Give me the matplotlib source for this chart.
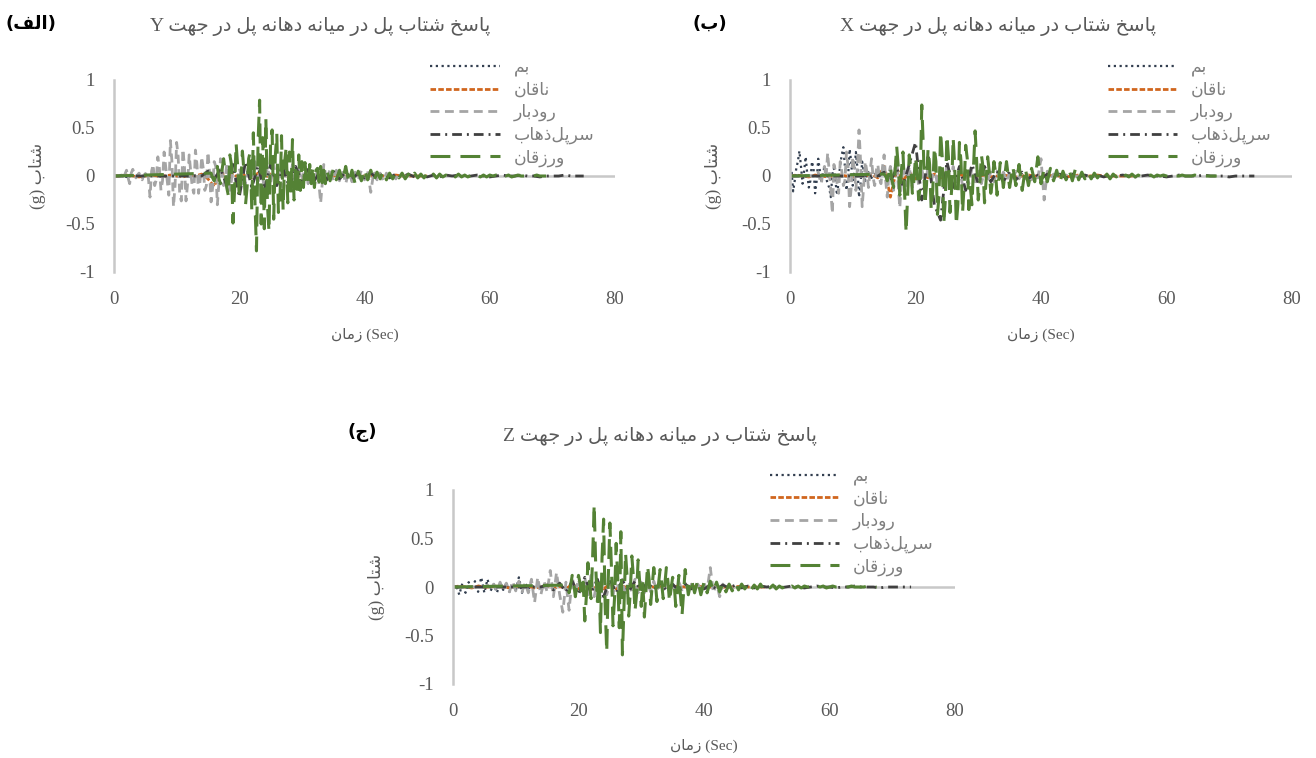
import numpy as np
import matplotlib
matplotlib.use('Agg')
import matplotlib.pyplot as plt
from matplotlib.lines import Line2D

plt.rcParams['axes.unicode_minus'] = False

# ---------------- data (acceleration in g) ----------------
# a record is one or more pieces: (start time s, time step s, values); zero before the start
xticks = [0, 20, 40, 60, 80]
yticks = [-1, -0.5, 0, 0.5, 1]
ytick_labels = ['-1', '-0.5', '0', '0.5', '1']
station_names = ['بم', 'ناقان', 'رودبار', 'سرپل\u200cذهاب', 'ورزقان']

# ---- panel (الف) : Y direction
bam_y = [0.00, 0.01, -0.01, 0.01, 0.00, -0.01, 0.01, 0.00, -0.01, 0.01,
         0.00, 0.01, -0.01, 0.00, 0.01, 0.00, -0.01, 0.01, 0.00, 0.00]
naghan_y = [0.00, 0.00, 0.01, 0.00, -0.01, 0.00, 0.01, 0.00, 0.00, 0.01,
            0.00, -0.01, 0.01, 0.00, 0.02, -0.03, -0.11, 0.06, -0.04, 0.03,
            -0.03, 0.02, -0.02, 0.03, -0.02, 0.02, -0.01, 0.02, -0.01, 0.01,
            -0.01, 0.01, 0.00, 0.01, -0.01, 0.00, 0.01, 0.00, 0.00, 0.01,
            0.00, 0.00, 0.01, 0.00, 0.00, 0.01, 0.00, 0.00, 0.00, 0.00, 0.00]
rudbar_y_core = [0.00, 0.01, -0.03, 0.02, 0.06, -0.02, -0.08, 0.03,
                 0.07, 0.02, -0.02, 0.01, 0.03, -0.01, -0.04, 0.01,
                 0.02, 0.05, -0.03, -0.22, 0.05, 0.12, -0.10, -0.04,
                 0.20, 0.08, -0.15, -0.05, 0.25, 0.10, -0.05, -0.20,
                 0.37, 0.15, -0.32, -0.10, 0.35, 0.20, -0.20, -0.26,
                 0.28, 0.10, -0.26, -0.08, 0.22, 0.05, -0.12, -0.18,
                 0.27, 0.12, -0.18, -0.05, 0.20, 0.08, -0.15, -0.10,
                 0.25, 0.05, -0.27, -0.12, 0.15, 0.10, -0.30, -0.08,
                 0.18, 0.05, -0.10, -0.04, 0.12, 0.06, -0.15, -0.05,
                 0.10, 0.04, -0.12, -0.03, 0.08, 0.02, -0.08, 0.03]
rudbar_y_tail = [-0.08, 0.10, -0.12, 0.15, -0.10, 0.12, -0.15, 0.10, -0.08, 0.12,
                 -0.10, 0.08, -0.12, 0.10, -0.08, 0.12, -0.10, 0.08, -0.06, 0.10,
                 -0.08, 0.06, -0.10, 0.08, -0.28, 0.12, -0.06, 0.08, -0.05, 0.06,
                 -0.05, 0.06, -0.08, 0.05, -0.06, 0.04, -0.05, 0.06, -0.04, 0.05,
                 -0.17, 0.05, -0.04, 0.03, -0.05, 0.03, -0.02, 0.02, -0.03, 0.02,
                 0.01, -0.01, 0.01, 0.00, 0.00]
sarpol_y = [0.00, 0.05, -0.04, 0.08, -0.10, 0.12, -0.22, 0.15, -0.12, 0.10,
            -0.15, 0.12, -0.10, 0.08, -0.12, 0.10, -0.06, 0.08, -0.05, 0.06,
            -0.04, 0.05, -0.03, 0.04, -0.03, 0.03, -0.02, 0.03, -0.02, 0.02,
            -0.02, 0.02, -0.01, 0.02, -0.01, 0.01, -0.01, 0.01, -0.01, 0.01,
            0.00, 0.01, -0.01, 0.00, 0.01, 0.00, -0.01, 0.00, 0.01, 0.00,
            0.00, 0.01, 0.00, 0.00, -0.01, 0.00, 0.00, 0.00, 0.01, 0.00, 0.00, 0.00]
varzaghan_y_core = [0.03, -0.02, -0.05, 0.04, 0.10, -0.03, -0.08, 0.06,
                    0.18, 0.05, -0.12, -0.20, 0.22, 0.12, -0.49, -0.15,
                    0.34, 0.10, -0.20, -0.08, 0.26, 0.05, -0.30, -0.12,
                    0.18, 0.25, -0.35, 0.45, -0.25, -0.78, 0.35, 0.79,
                    -0.50, 0.40, -0.55, 0.60, -0.30, -0.58, 0.35, 0.48,
                    -0.45, 0.20, 0.44, -0.38, -0.25, 0.42, -0.35, 0.15,
                    0.30, -0.28, 0.25, -0.20, 0.38, -0.25, 0.12, -0.20,
                    0.22, -0.15, 0.15, -0.12, 0.14, -0.08, -0.10, 0.12,
                    -0.08, 0.10, -0.12, 0.06, 0.08, -0.06, 0.10, -0.07,
                    0.06, -0.08]
varzaghan_y_tail = [0.05, -0.05, 0.07, -0.04, 0.06, -0.05, 0.10, -0.07, 0.06, -0.08,
                    0.05, -0.05, 0.07, -0.04, 0.06, -0.05, 0.04, -0.03, 0.05, -0.04,
                    0.03, -0.03, 0.04, -0.02, 0.03, -0.03, 0.02, -0.03, 0.03, -0.02,
                    0.02, -0.02, 0.03, -0.01, 0.02, -0.02, 0.02, -0.01, 0.01, -0.02,
                    0.01, -0.01, 0.02, -0.01, 0.01, -0.01, 0.01, -0.01, 0.01, -0.01,
                    0.01, -0.01, 0.01, 0.00, 0.01, -0.01, 0.01, 0.00, 0.01, -0.01,
                    0.00, 0.01, 0.00, 0.00, 0.01, 0.00, 0.00, 0.01, 0.00, 0.00, 0.00]

# ---- panel (ب) : X direction
bam_x_core = [0.00, 0.05, -0.16, -0.05, 0.08, 0.15, 0.26, 0.10,
              -0.08, 0.05, 0.20, 0.02, -0.12, -0.05, 0.15, 0.08,
              -0.18, -0.05, 0.18, 0.06, -0.05, 0.03, 0.10, -0.02,
              -0.08, -0.12, -0.22, 0.02, 0.08, -0.06, -0.20, -0.05,
              0.12, 0.22, 0.30, 0.10, -0.15, -0.02, 0.28, 0.15,
              -0.10, 0.05, 0.25, 0.08, -0.22, -0.08, 0.15, 0.05,
              -0.05, 0.02, 0.04, -0.01, -0.02, 0.01, 0.02, 0.00,
              -0.01, 0.00, 0.01, 0.00]
bam_x_tail = [0.01, 0.00, -0.01, 0.00, 0.01, 0.00, 0.00, 0.00, 0.00, 0.00]
naghan_x = [0.00, 0.01, 0.00, -0.01, 0.01, 0.00, -0.01, 0.00, 0.01, 0.00,
            -0.01, 0.01, 0.00, 0.02, -0.02, 0.10, -0.22, 0.08, -0.05, 0.04,
            -0.03, 0.03, -0.02, 0.02, -0.02, 0.01, -0.01, 0.02, -0.01, 0.01,
            0.00, 0.01, -0.01, 0.00, 0.01, 0.00, -0.01, 0.00, 0.01, 0.00,
            0.00, 0.01, 0.00, 0.00, -0.01, 0.00, 0.01, 0.00, 0.00, 0.01,
            0.00, 0.00, 0.00, 0.00, 0.00, 0.00]
rudbar_x_core = [0.00, 0.02, 0.04, -0.03, -0.08, 0.05, 0.10, -0.02,
                 0.24, 0.05, -0.15, -0.39, 0.12, 0.05, -0.08, -0.18,
                 0.15, 0.05, -0.10, -0.05, 0.25, 0.10, -0.32, -0.12,
                 0.20, 0.08, -0.15, 0.10, 0.48, 0.15, -0.32, -0.10,
                 0.15, 0.05, -0.12, 0.04, 0.18, -0.02, -0.10, 0.06,
                 0.12, -0.03, -0.08, 0.10, 0.22, -0.05, -0.22, 0.02,
                 0.10, -0.08, -0.15, 0.12, 0.20, -0.10, -0.33, -0.05,
                 0.12, 0.04, -0.10, -0.02]
rudbar_x_tail = [0.10, -0.12, 0.15, -0.10, 0.08, -0.12, 0.10, -0.08, 0.12, -0.10,
                 0.08, -0.10, 0.12, -0.08, 0.10, -0.06, 0.08, -0.10, 0.06, -0.08,
                 0.08, -0.06, 0.05, -0.08, 0.06, -0.05, 0.04, -0.06, 0.05, -0.04,
                 0.04, -0.05, 0.03, -0.04, 0.05, -0.03, 0.04, -0.03, 0.03, -0.04,
                 0.03, -0.02, 0.18, -0.25, 0.05, -0.03, 0.02, -0.02, 0.02, -0.01,
                 0.01, -0.01, 0.01, 0.00, 0.00]
sarpol_x = [0.00, 0.04, -0.06, 0.08, -0.10, 0.12, 0.35, -0.25, 0.20, -0.30,
            -0.46, 0.15, -0.12, 0.10, -0.15, 0.12, -0.08, 0.10, -0.06, 0.05,
            -0.06, 0.05, -0.04, 0.04, -0.03, 0.03, -0.03, 0.02, -0.02, 0.02,
            -0.02, 0.02, -0.01, 0.01, -0.01, 0.01, -0.01, 0.01, 0.00, 0.01,
            0.00, -0.01, 0.00, 0.01, 0.00, 0.00, -0.01, 0.00, 0.01, 0.00,
            0.00, 0.00, 0.01, 0.00, 0.00, 0.00, -0.01, 0.00, 0.00, 0.00, 0.00]
varzaghan_x_core = [0.02, 0.00, -0.05, 0.03, 0.10, -0.04, -0.12, 0.05,
                    0.31, 0.10, -0.20, 0.05, 0.25, -0.15, -0.59, -0.20,
                    0.22, 0.10, -0.18, -0.05, 0.20, 0.08, -0.25, -0.10,
                    0.74, 0.30, -0.30, -0.10, 0.28, 0.12, -0.35, -0.15,
                    0.30, 0.15, -0.40, -0.20, 0.46, 0.20, -0.50, -0.25,
                    0.42, 0.20, -0.38, -0.15, 0.40, 0.10, -0.51, -0.30,
                    0.35, 0.15, -0.38, -0.10, 0.32, 0.18, -0.35, -0.12,
                    -0.30, 0.10, 0.47, 0.15, -0.25, -0.08, 0.22, 0.10,
                    -0.28, -0.05, 0.20, 0.05, -0.18, -0.06, 0.15, 0.04,
                    -0.20, -0.05, 0.14, 0.03]
varzaghan_x_tail = [-0.12, 0.15, -0.12, 0.10, -0.10, 0.12, -0.15, 0.08, -0.10, 0.08,
                    -0.06, 0.20, -0.08, 0.07, -0.06, 0.08, -0.05, 0.06, -0.07, 0.05,
                    -0.04, 0.06, -0.05, 0.08, -0.04, 0.04, -0.03, 0.04, -0.03, 0.03,
                    -0.02, 0.03, -0.02, 0.02, -0.03, 0.02, -0.01, 0.02, -0.02, 0.01,
                    -0.01, 0.02, -0.01, 0.01, -0.01, 0.01, 0.00, 0.01, -0.01, 0.01,
                    0.00, 0.01, 0.00, -0.01, 0.01, 0.00, 0.00, 0.01, 0.00, 0.00,
                    0.00, 0.01, 0.00, 0.00, 0.00, 0.00, 0.00, 0.00, 0.00]

# ---- panel (ج) : Z direction
bam_z = [0.00, 0.02, -0.08, 0.04, -0.06, 0.05, -0.03, 0.06, -0.05, 0.10,
         -0.06, 0.08, -0.04, 0.03, -0.06, 0.05, -0.03, 0.04, -0.05, 0.03,
         -0.04, 0.10, -0.06, 0.04, -0.02, 0.02, -0.01, 0.01, 0.00, 0.00]
naghan_z = [0.00, 0.01, 0.00, -0.01, 0.01, 0.00, 0.00, 0.01, 0.00, -0.01,
            0.01, 0.00, 0.01, -0.01, 0.00, 0.02, -0.02, 0.01, -0.02, 0.03,
            -0.02, 0.02, -0.03, 0.02, -0.02, 0.03, -0.02, 0.01, -0.01, 0.02,
            -0.01, 0.01, 0.00, 0.01, -0.01, 0.00, 0.01, 0.00, 0.00, 0.01,
            0.00, 0.00, 0.01, 0.00, 0.00, 0.00, 0.01, 0.00, 0.00, 0.00, 0.00]
rudbar_z = [0.00, 0.02, -0.02, 0.03, -0.04, 0.05, -0.03, 0.04, -0.05, 0.06,
            -0.04, 0.06, -0.05, 0.04, -0.06, 0.08, -0.16, 0.10, -0.08, 0.06,
            -0.05, 0.17, -0.10, 0.15, -0.08, -0.26, 0.05, -0.24, 0.10, -0.06,
            0.08, -0.06, 0.10, -0.08, 0.12, -0.10, 0.08, -0.12, 0.10, -0.08,
            0.06, -0.08, 0.10, -0.06, 0.08, -0.10, 0.06, -0.05, 0.08, -0.06,
            0.05, -0.06, 0.04, -0.05, 0.06, -0.04, 0.05, -0.03, 0.04, -0.05,
            0.03, -0.04, 0.05, -0.03, 0.04, -0.03, 0.03, -0.04, 0.03, -0.02,
            0.04, -0.03, 0.20, -0.06, 0.04, -0.10, 0.03, -0.02, 0.02, -0.02,
            0.01, -0.01, 0.01, 0.00, 0.00]
sarpol_z = [0.00, 0.02, -0.03, 0.04, -0.05, 0.06, -0.08, 0.10, -0.06, 0.08,
            -0.10, 0.08, -0.06, 0.07, -0.05, 0.06, -0.04, 0.05, -0.03, 0.04,
            -0.03, 0.03, -0.04, 0.03, -0.02, 0.03, -0.02, 0.02, -0.02, 0.02,
            -0.01, 0.02, -0.01, 0.01, -0.01, 0.01, 0.00, 0.01, -0.01, 0.00,
            0.01, 0.00, -0.01, 0.00, 0.01, 0.00, 0.00, -0.01, 0.00, 0.00,
            0.01, 0.00, 0.00, 0.00, -0.01, 0.00, 0.00, 0.00, 0.00, 0.00]
varzaghan_z_core = [0.02, 0.00, -0.06, 0.02, 0.12, 0.03, -0.10, 0.02,
                    0.12, 0.04, -0.08, 0.05, -0.35, -0.10, 0.25, 0.05,
                    -0.12, 0.30, 0.85, 0.20, -0.15, 0.10, -0.47, 0.30,
                    0.70, -0.20, -0.67, 0.10, 0.66, 0.20, -0.40, -0.10,
                    0.45, 0.10, -0.42, 0.57, -0.70, -0.20, 0.35, 0.10,
                    -0.30, -0.05, 0.32, 0.10, -0.25, -0.08, 0.28, 0.05,
                    -0.20, 0.05, -0.31, -0.05, 0.22, 0.08, -0.18, 0.02,
                    0.20, 0.05, -0.15, 0.03, 0.18, 0.04, -0.12, 0.02,
                    0.20, 0.06, -0.15, -0.02, 0.10, 0.03, -0.20, -0.05]
varzaghan_z_tail = [0.12, -0.29, 0.18, -0.08, 0.08, -0.06, 0.07, -0.08, 0.05, -0.06,
                    0.06, -0.04, 0.05, -0.05, 0.04, -0.05, 0.03, -0.04, 0.04, -0.03,
                    0.03, -0.02, 0.03, -0.03, 0.02, -0.02, 0.03, -0.02, 0.02, -0.01,
                    0.02, -0.02, 0.01, -0.01, 0.02, -0.01, 0.01, -0.01, 0.01, -0.01,
                    0.01, 0.00, 0.01, -0.01, 0.01, 0.00, 0.01, -0.01, 0.00, 0.01,
                    0.00, 0.00, 0.01, 0.00, 0.00, 0.01, 0.00, 0.00, 0.00, 0.00,
                    0.01, 0.00, 0.00, 0.00]

# ---------------- persian text shaping (matplotlib has no arabic layout) ----------------
FORMS = {
    'ا': '\uFE8D\uFE8E', 'د': '\uFEA9\uFEAA', 'ذ': '\uFEAB\uFEAC',
    'ر': '\uFEAD\uFEAE', 'ز': '\uFEAF\uFEB0', 'و': '\uFEED\uFEEE',
    'ب': '\uFE8F\uFE90\uFE91\uFE92', 'پ': '\uFB56\uFB57\uFB58\uFB59',
    'ت': '\uFE95\uFE96\uFE97\uFE98', 'ج': '\uFE9D\uFE9E\uFE9F\uFEA0',
    'خ': '\uFEA5\uFEA6\uFEA7\uFEA8', 'س': '\uFEB1\uFEB2\uFEB3\uFEB4',
    'ش': '\uFEB5\uFEB6\uFEB7\uFEB8', 'ف': '\uFED1\uFED2\uFED3\uFED4',
    'ق': '\uFED5\uFED6\uFED7\uFED8', 'ل': '\uFEDD\uFEDE\uFEDF\uFEE0',
    'م': '\uFEE1\uFEE2\uFEE3\uFEE4', 'ن': '\uFEE5\uFEE6\uFEE7\uFEE8',
    'ه': '\uFEE9\uFEEA\uFEEB\uFEEC', 'ی': '\uFBFC\uFBFD\uFBFE\uFBFF',
}


def rtl(s):
    out = []
    for i, c in enumerate(s):
        if c not in FORMS:
            if c != '\u200c':
                out.append(c)
            continue
        prev = s[i - 1] if i > 0 else ''
        nxt = s[i + 1] if i + 1 < len(s) else ''
        jp = prev in FORMS and len(FORMS[prev]) == 4
        jn = len(FORMS[c]) == 4 and nxt in FORMS
        f = FORMS[c]
        if jp and jn:
            out.append(f[3])
        elif jp:
            out.append(f[1])
        elif jn:
            out.append(f[2])
        else:
            out.append(f[0])
    return ''.join(out)[::-1]


# ---------------- styles ----------------
FAM = ['Liberation Serif', 'DejaVu Sans']
GRAY_TXT = '#595959'
AXIS_GRAY = '#C8C8C8'
styles = [
    dict(color='#333F50', lw=1.6, ls=(0, (1.0, 1.6))),
    dict(color='#D0661E', lw=2.0, ls=(0, (2.0, 0.8))),
    dict(color='#A5A5A5', lw=2.0, ls=(0, (3.2, 2.0))),
    dict(color='#404040', lw=2.0, ls=(0, (3.5, 1.8, 0.7, 1.8))),
    dict(color='#548235', lw=2.2, ls=(0, (6.5, 3.3))),
]


def series(pieces):
    ts, vs = [], []
    if pieces[0][0] > 0:
        ts.append([0.0])
        vs.append([0.0])
    for start, dt, vals in pieces:
        ts.append(start + dt * np.arange(len(vals)))
        vs.append(np.asarray(vals, dtype=float))
    return np.concatenate(ts), np.concatenate(vs)


def draw_panel(ax, records, leg_anchor, xlab_y):
    ax.set_xlim(0, 80)
    ax.set_ylim(-1, 1)
    ax.axhline(0, color=AXIS_GRAY, lw=1.8, zorder=1)
    handles = []
    for pieces, st in zip(records, styles):
        t, v = series(pieces)
        ax.plot(t, v, color=st['color'], lw=st['lw'], ls=st['ls'], zorder=2,
                solid_capstyle='butt', dash_capstyle='butt')
        handles.append(Line2D([], [], color=st['color'], lw=st['lw'], ls=st['ls']))
    for side in ['top', 'right', 'bottom']:
        ax.spines[side].set_visible(False)
    ax.spines['left'].set_color(AXIS_GRAY)
    ax.spines['left'].set_linewidth(1.8)
    ax.set_xticks(xticks)
    ax.set_xticklabels([str(x) for x in xticks])
    ax.set_yticks(yticks)
    ax.set_yticklabels(ytick_labels)
    ax.tick_params(length=0, labelsize=13.5, labelcolor=GRAY_TXT)
    ax.tick_params(axis='x', pad=14)
    ax.tick_params(axis='y', pad=14)
    for lab in ax.get_xticklabels() + ax.get_yticklabels():
        lab.set_family('Liberation Serif')
    ax.set_ylabel('(g) ' + rtl('شتاب'), family=FAM, fontsize=12.5, color=GRAY_TXT)
    ax.yaxis.set_label_coords(-0.135, 0.5)
    ax.set_xlabel(rtl('زمان') + ' (Sec)', family=FAM, fontsize=11, color=GRAY_TXT)
    ax.xaxis.set_label_coords(0.5, xlab_y)
    leg = ax.legend(handles, [rtl(n) for n in station_names], loc='upper left',
                    bbox_to_anchor=leg_anchor, frameon=False,
                    handlelength=4.0, handletextpad=0.8, labelspacing=0.25,
                    borderpad=0, borderaxespad=0,
                    prop={'family': 'DejaVu Sans', 'size': 12.5})
    for txt in leg.get_texts():
        txt.set_color('#7F7F7F')


fig = plt.figure(figsize=(13.16, 7.58), dpi=100)
W, H = 1316, 758
axA = fig.add_axes([114 / W, 1 - 272 / H, 501 / W, 192 / H])
axB = fig.add_axes([790 / W, 1 - 272 / H, 502 / W, 192 / H])
axC = fig.add_axes([453 / W, 1 - 684 / H, 502 / W, 194 / H])

draw_panel(axA, [[(0.0, 1.0, bam_y)],
                 [(0.0, 1.0, naghan_y)],
                 [(1.0, 0.25, rudbar_y_core), (21.0, 0.5, rudbar_y_tail)],
                 [(14.0, 1.0, sarpol_y)],
                 [(15.5, 0.25, varzaghan_y_core), (34.0, 0.5, varzaghan_y_tail)]],
           (0.631, 1.115), -0.29)
draw_panel(axB, [[(0.0, 0.25, bam_x_core), (15.0, 0.5, bam_x_tail)],
                 [(0.0, 1.0, naghan_x)],
                 [(4.0, 0.25, rudbar_x_core), (19.0, 0.5, rudbar_x_tail)],
                 [(14.0, 1.0, sarpol_x)],
                 [(15.0, 0.25, varzaghan_x_core), (34.0, 0.5, varzaghan_x_tail)]],
           (0.633, 1.115), -0.29)
draw_panel(axC, [[(0.0, 0.5, bam_z)],
                 [(0.0, 1.0, naghan_z)],
                 [(5.0, 0.5, rudbar_z)],
                 [(14.0, 1.0, sarpol_z)],
                 [(18.0, 0.25, varzaghan_z_core), (36.0, 0.5, varzaghan_z_tail)]],
           (0.631, 1.12), -0.28)

# titles and panel letters
titles = [('Y ' + rtl('پاسخ شتاب پل در میانه دهانه پل در جهت'), 320, 26),
          ('X ' + rtl('پاسخ شتاب در میانه دهانه پل در جهت'), 998, 26),
          ('Z ' + rtl('پاسخ شتاب در میانه دهانه پل در جهت'), 660, 437)]
for txt, x, y in titles:
    fig.text(x / W, 1 - y / H, txt, ha='center', va='center', family=FAM,
             fontsize=14, color=GRAY_TXT)
letters = [('(' + rtl('الف') + ')', 31, 24), ('(' + rtl('ب') + ')', 710, 24),
           ('(' + rtl('ج') + ')', 362, 432)]
for txt, x, y in letters:
    fig.text(x / W, 1 - y / H, txt, ha='center', va='center', family='DejaVu Sans',
             fontsize=13, fontweight='bold', color='black')

fig.savefig('out.png', dpi=100)
